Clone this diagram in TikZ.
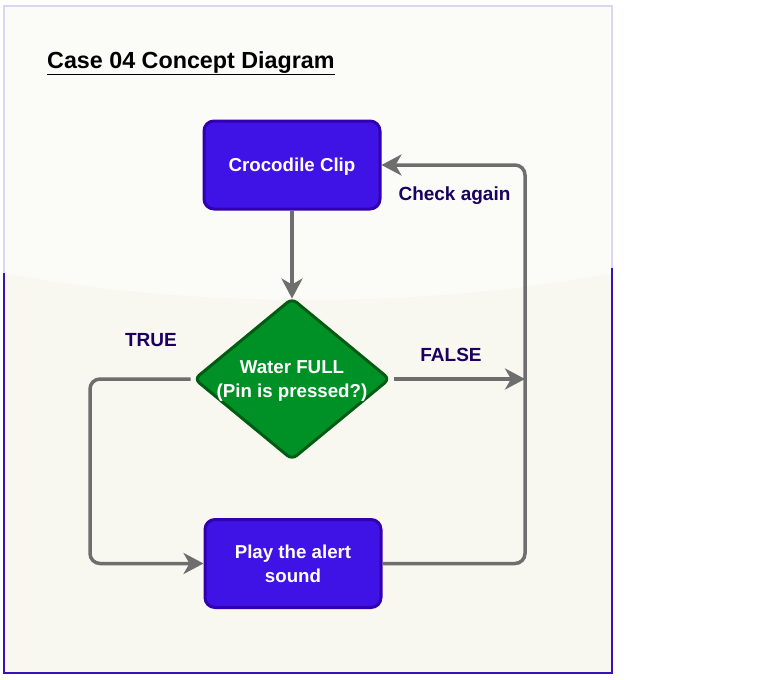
\documentclass[tikz,border=0pt]{standalone}
\usepackage{fontspec}
\setmainfont{Liberation Sans}
\usetikzlibrary{shapes.geometric,arrows.meta}
\definecolor{bgbot}{HTML}{F8F7F0}
\definecolor{bgtop}{HTML}{FBFBF8}
\definecolor{frametop}{HTML}{DCD6F2}
\definecolor{framebot}{HTML}{3A10B8}
\definecolor{boxfill}{HTML}{3F12E6}
\definecolor{boxline}{HTML}{3300B0}
\definecolor{diafill}{HTML}{009126}
\definecolor{dialine}{HTML}{005C12}
\definecolor{arrgray}{HTML}{6E6E6E}
\definecolor{lbl}{HTML}{1B0060}
\tikzset{
  procbox/.style={rectangle, rounded corners=10pt, draw=boxline, fill=boxfill, line width=3pt,
    minimum width=176pt, minimum height=88pt, inner sep=0pt, text=white, align=center,
    text depth=0pt, font=\fontsize{18.7}{24}\selectfont\bfseries},
  decbox/.style={diamond, aspect=1.21, rounded corners=6pt, draw=dialine, fill=diafill, line width=3pt,
    minimum width=196pt, minimum height=162pt, inner sep=-3pt, text=white, align=center,
    text depth=0pt, font=\fontsize{18.7}{24}\selectfont\bfseries},
  arr/.style={draw=arrgray, line width=3.5pt, -{Stealth[length=20pt,width=21pt,inset=6pt]}},
  lab/.style={text=lbl, anchor=base, inner sep=0pt, font=\fontsize{19}{23}\selectfont\bfseries},
}
\begin{document}
\begin{tikzpicture}[x=1pt,y=-1pt]
\useasboundingbox (0,0) rectangle (764,680);
% background frame
\fill[bgbot] (4,6) rectangle (612,673);
\begin{scope}
  \clip (4,6) rectangle (612,673);
  \fill[bgtop] (308,28) ellipse [x radius=700, y radius=272];
\end{scope}
\draw[frametop, line width=1.3pt] (4,273) -- (4,6) -- (612,6) -- (612,268);
\draw[framebot, line width=1.3pt] (612,268) -- (612,673) -- (4,673) -- (4,273);
% title
\node[anchor=base west, inner sep=0pt, font=\fontsize{23.3}{28}\selectfont\bfseries] (title) at (47,68) {\underline{Case 04 Concept Diagram}};
% nodes
\node[procbox] (croc) at (292,165) {Crocodile Clip};
\node[decbox] (dia) at (292,379) {Water FULL\\(Pin is pressed?)};
\node[procbox] (play) at (293,563.5) {Play the alert\\sound};
\coordinate (rj) at (525,379);
\coordinate (rt) at (525,165);
\coordinate (lb) at (90,379);
% connectors
\draw[arr] (croc.south) -- ([yshift=-2pt]dia.north);
\draw[arr, rounded corners=10pt] ([xshift=-2pt]dia.west) -- (lb) |- (play.west);
\draw[arr] ([xshift=2pt]dia.east) -- (rj);
\draw[arr, rounded corners=10pt] (play.east) -| (rt) -- (croc.east);
% labels
\node[lab] (ltrue) at (151,346) {TRUE};
\node[lab] (lfalse) at (451,361) {FALSE};
\node[lab] (lcheck) at (454.5,200) {Check again};
\end{tikzpicture}
\end{document}
